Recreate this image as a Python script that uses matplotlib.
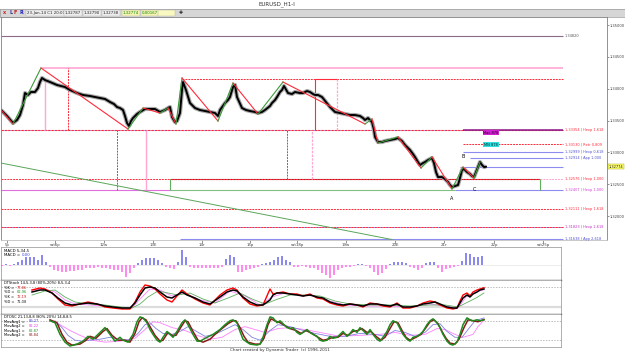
import matplotlib
matplotlib.use("Agg")
import matplotlib.pyplot as plt

# ── datos ───────────────────────────────────────────────────────────────────
price_x = [1, 3, 7, 13, 17, 20, 23, 25, 28, 31, 35, 38, 40, 42, 45, 50, 57, 65, 70, 77,
           83, 90, 95, 100, 105, 110, 114, 117, 120, 123, 125, 127, 129, 131, 133, 137, 140, 145, 150, 155,
           160, 165, 168, 170, 172, 175, 177, 180, 182, 183, 186, 190, 195, 200, 205, 210, 215, 218, 220, 225,
           228, 230, 233, 235, 237, 242, 246, 250, 255, 258, 262, 265, 270, 272, 275, 277, 280, 282, 284, 288,
           292, 295, 300, 303, 307, 310, 313, 315, 318, 322, 326, 330, 335, 340, 345, 350, 355, 360, 363, 365,
           368, 372, 374, 375, 378, 382, 385, 390, 395, 398, 402, 405, 408, 410, 413, 415, 418, 420, 423, 425,
           428, 430, 432, 434, 436, 438, 442, 445, 448, 450, 452, 455, 458, 460, 462, 464, 467, 470, 472, 474,
           476, 478, 480, 482, 484, 486]
price_close = [1.33665, 1.33634, 1.33571, 1.33461, 1.33508, 1.33586, 1.33743, 1.33932, 1.33901, 1.33948,
               1.33948, 1.34011, 1.34105, 1.34168, 1.34136, 1.34105, 1.34058, 1.34026, 1.33979, 1.33932,
               1.33901, 1.33885, 1.33869, 1.33853, 1.33838, 1.33791, 1.33759, 1.33712, 1.33696, 1.33665,
               1.33571, 1.33461, 1.33414, 1.33492, 1.33539, 1.33602, 1.33634, 1.33681, 1.33681, 1.33681,
               1.33634, 1.33665, 1.33696, 1.33712, 1.33555, 1.33476, 1.33492, 1.33618, 1.33979, 1.34105,
               1.33979, 1.33775, 1.33696, 1.33665, 1.33649, 1.33634, 1.33618, 1.33571, 1.33665, 1.33775,
               1.33822, 1.33869, 1.34026, 1.34058, 1.33869, 1.33696, 1.33665, 1.33649, 1.33634, 1.33618,
               1.33634, 1.33665, 1.33728, 1.33775, 1.33822, 1.33869, 1.33948, 1.33979, 1.34042, 1.33932,
               1.33916, 1.33948, 1.33932, 1.33932, 1.33963, 1.33948, 1.33916, 1.33901, 1.33901, 1.33869,
               1.33791, 1.33712, 1.33634, 1.33618, 1.33602, 1.33586, 1.33586, 1.33571, 1.33539, 1.33508,
               1.33539, 1.33476, 1.33351, 1.33241, 1.33162, 1.33162, 1.33178, 1.33194, 1.33209, 1.33225,
               1.33178, 1.33115, 1.33068, 1.33037, 1.32974, 1.32927, 1.32848, 1.32801, 1.32832, 1.32848,
               1.32879, 1.32895, 1.32911, 1.32832, 1.32691, 1.32612, 1.32612, 1.32581, 1.32534, 1.32487,
               1.32455, 1.32471, 1.32487, 1.32597, 1.32722, 1.32738, 1.32691, 1.32660, 1.32628, 1.32612,
               1.32691, 1.32769, 1.32848, 1.32801, 1.32769, 1.32774]

zz_x = [1, 13, 41, 128, 143, 160, 168, 176, 182, 218, 233, 258, 283, 365, 372, 378, 398, 421, 432, 452, 463, 474, 480]
zz_p = [1.33665, 1.33445, 1.34325, 1.33366, 1.33696, 1.33618, 1.33696, 1.33445, 1.34168, 1.33492, 1.34089,
        1.33602, 1.34105, 1.33445, 1.33524, 1.33146, 1.33241, 1.32754, 1.32927, 1.32424, 1.32769, 1.32597, 1.32848]

trend_x = [1, 392]
trend_p = [1.32832, 1.31630]

price_ticks = [1.32, 1.325, 1.33, 1.335, 1.34, 1.345, 1.35]
last_price = 1.32774

date_x = [7, 55, 104, 153, 202, 250, 297, 346, 395, 444, 494, 543]
date_lbl = ["5p", "sat6p", "12w", "13E", "14r", "15p", "sat18p", "19w", "20E", "21r", "22p", "sat25p"]

macd_x = list(range(2, 486, 4))
macd_hist = [-1, 1, -1, 1, 3, 5, 8, 8, 8, 5,
             10, 3, -2, -5, -6, -7, -7, -6, -6, -5,
             -5, -3, -3, -3, -2, -3, -3, -4, -5, -5,
             -7, -12, -8, -3, 2, 5, 7, 7, 7, 5,
             2, -2, -3, -4, 3, 15, 8, -2, -3, -3,
             -3, -3, -3, -3, -3, -2, 6, 10, 8, -7,
             -7, -5, -4, -3, -2, 1, 2, 3, 5, 8,
             9, 5, 3, -2, -2, -1, -2, -3, -3, -5,
             -8, -10, -13, -10, -5, -3, -2, -2, -1, 1,
             1, -1, -3, -7, -10, -8, -4, 1, 3, 3,
             3, 2, -2, -3, -5, -3, 2, 3, 3, -3,
             -7, -4, -3, -2, -1, 4, 12, 11, 8, 8,
             9]

stoch_x = [32, 40, 45, 52, 58, 65, 72, 80, 88, 97, 105, 113, 122, 130, 135, 140, 145, 150, 155, 160,
           167, 172, 177, 182, 187, 195, 203, 210, 213, 220, 227, 233, 237, 243, 250, 257, 263, 270, 273, 277,
           283, 290, 297, 303, 310, 317, 323, 330, 337, 343, 350, 357, 363, 370, 377, 383, 390, 397, 403, 410,
           417, 423, 430, 435, 440, 447, 453, 457, 460, 463, 467, 470, 473, 477, 480, 484]
stoch_k_black = [65, 71, 71, 62, 47, 32, 26, 29, 32, 29, 23, 20, 17, 17, 32, 56, 77, 80, 77, 65,
                 50, 47, 56, 65, 56, 47, 35, 29, 35, 50, 65, 71, 68, 50, 35, 26, 26, 41, 56, 62,
                 62, 59, 56, 53, 56, 50, 47, 35, 29, 26, 29, 26, 23, 29, 29, 26, 23, 29, 20, 20,
                 23, 29, 32, 35, 29, 20, 17, 17, 32, 47, 56, 50, 59, 65, 71, 74]
stoch_k_red = [71, 77, 74, 62, 44, 26, 23, 29, 35, 29, 20, 17, 14, 14, 35, 65, 86, 83, 74, 59,
               41, 35, 53, 71, 59, 44, 32, 26, 35, 56, 71, 77, 71, 47, 29, 23, 26, 74, 59, 62,
               65, 59, 59, 53, 59, 47, 44, 32, 26, 23, 29, 26, 20, 32, 29, 23, 20, 32, 17, 17,
               23, 32, 38, 35, 26, 17, 14, 17, 38, 56, 62, 53, 65, 71, 74, 78]
sg_x = [32, 45, 55, 65, 75, 90, 105, 120, 132, 140, 148, 158, 168, 178, 190, 203, 215, 228, 240, 252,
        265, 278, 290, 305, 320, 335, 350, 370, 390, 410, 430, 445, 458, 468, 476, 484]
stoch_d_green = [56, 68, 71, 50, 35, 29, 26, 20, 17, 29, 50, 68, 62, 56, 62, 44, 32, 47, 62, 44,
                 29, 44, 56, 56, 53, 38, 29, 26, 26, 23, 26, 26, 20, 35, 47, 62]
sp_x = [32, 45, 55, 65, 75, 90, 105, 120, 132, 140, 150, 160, 172, 185, 200, 215, 230, 245, 260, 272,
        285, 300, 315, 330, 345, 365, 390, 410, 430, 445, 458, 466, 476, 484]
stoch_d_pink = [71, 74, 65, 41, 29, 26, 23, 17, 17, 44, 74, 71, 53, 62, 41, 32, 68, 53, 26, 50,
                62, 56, 53, 38, 26, 23, 23, 20, 29, 23, 17, 50, 65, 72]

og_x = [50, 55, 60, 65, 70, 77, 83, 88, 93, 100, 105, 110, 115, 120, 123, 128, 133, 137, 140, 143,
        147, 150, 153, 157, 160, 163, 167, 170, 173, 177, 182, 185, 188, 193, 197, 200, 207, 213, 220, 225,
        230, 233, 237, 240, 243, 247, 250, 257, 260, 263, 267, 270, 273, 277, 280, 283, 287, 290, 293, 297,
        300, 303, 307, 310, 313, 317, 320, 323, 327, 330, 333, 337, 340, 343, 347, 350, 353, 357, 360, 363,
        367, 370, 373, 377, 380, 383, 387, 390, 393, 397, 400, 403, 407, 410, 413, 417, 420, 423, 427, 430,
        433, 437, 440, 443, 447, 450, 453, 457, 460, 463, 467, 470, 473, 477, 480, 484]
osc_green = [80, 74, 38, 14, 2, 8, 17, 32, 23, 44, 59, 38, 17, 29, 20, 14, 38, 77, 92, 89,
             74, 53, 38, 20, 14, 29, 47, 38, 29, 47, 74, 83, 68, 38, 17, 17, 29, 38, 53, 68,
             80, 83, 74, 47, 23, 14, 8, 5, 8, 29, 68, 92, 89, 74, 80, 71, 59, 56, 59, 44,
             38, 44, 53, 44, 38, 32, 20, 17, 20, 32, 26, 29, 38, 47, 32, 41, 53, 44, 59, 50,
             38, 53, 38, 23, 17, 29, 47, 68, 80, 74, 56, 38, 23, 17, 29, 32, 38, 47, 68, 80,
             86, 74, 59, 38, 17, 8, 5, 14, 38, 68, 89, 83, 80, 83, 80, 83]
or_x = [50, 57, 62, 67, 72, 80, 86, 90, 96, 103, 107, 112, 118, 125, 130, 135, 139, 142, 146, 150,
        155, 160, 163, 168, 172, 176, 180, 185, 188, 193, 198, 203, 210, 215, 222, 228, 233, 236, 240, 244,
        248, 255, 260, 264, 268, 271, 275, 280, 285, 290, 296, 301, 306, 312, 318, 323, 328, 333, 338, 343,
        348, 353, 358, 362, 367, 371, 376, 381, 385, 390, 394, 398, 402, 406, 410, 416, 421, 426, 430, 434,
        438, 442, 446, 450, 455, 459, 464, 468, 473, 478, 484]
osc_red = [83, 74, 38, 14, 5, 8, 20, 32, 26, 47, 56, 35, 20, 20, 14, 41, 77, 89, 83, 62,
           35, 17, 20, 44, 35, 35, 56, 80, 77, 47, 20, 14, 23, 38, 56, 71, 80, 80, 59, 32,
           14, 8, 8, 26, 68, 86, 80, 74, 65, 56, 50, 41, 50, 41, 29, 20, 23, 29, 29, 41,
           35, 47, 50, 56, 44, 47, 32, 20, 29, 56, 77, 74, 50, 29, 20, 29, 38, 59, 77, 83,
           71, 47, 26, 11, 8, 23, 59, 83, 80, 77, 84]
ob_x = [55, 62, 68, 75, 82, 90, 100, 110, 120, 130, 138, 145, 150, 156, 163, 172, 180, 188, 195, 205,
        215, 225, 235, 243, 252, 260, 270, 278, 290, 300, 315, 330, 345, 360, 375, 385, 395, 405, 415, 425,
        433, 440, 447, 455, 462, 468, 475, 484]
osc_blue = [80, 59, 35, 20, 17, 20, 23, 29, 23, 20, 41, 68, 74, 56, 41, 38, 47, 62, 50, 32,
            38, 53, 68, 53, 29, 20, 50, 68, 62, 53, 41, 32, 32, 41, 38, 32, 50, 44, 32, 44,
            68, 71, 47, 29, 29, 53, 80, 89]
op_x = [52, 60, 70, 80, 92, 105, 120, 135, 145, 153, 160, 172, 185, 197, 210, 222, 235, 245, 255, 265,
        278, 290, 305, 320, 340, 360, 380, 395, 410, 425, 437, 445, 455, 463, 473, 478, 484]
osc_pink = [80, 68, 50, 35, 20, 14, 17, 26, 53, 77, 74, 59, 50, 35, 23, 29, 53, 62, 53, 44,
            56, 59, 53, 44, 32, 35, 38, 44, 35, 38, 56, 53, 38, 29, 38, 62, 82]

# ── figura ───────────────────────────────────────────────────────────────────
W, H = 625, 354
RED = "#ff2a3a"; PINK = "#ffa6d2"; BLUE = "#8c8cf0"; GREEN = "#3a9a3a"; DKRED = "#9a2020"
fig = plt.figure(figsize=(W / 100, H / 100), dpi=100)
fig.patch.set_facecolor("white")


def px_axes(x0, y0, x1, y1):
    return fig.add_axes([x0 / W, 1 - y1 / H, (x1 - x0) / W, (y1 - y0) / H])


def ftext(x, y, s, **kw):
    fig.text(x / W, 1 - y / H, s, **kw)


# barra superior
ftext(277, 4, "EURUSD_H1-I", fontsize=4, ha="center", va="center", color="#303030")
bar = px_axes(0, 9, 625, 17)
bar.set_facecolor("#d6d6d6")
bar.set_xticks([]); bar.set_yticks([])
for s in bar.spines.values():
    s.set_color("#9a9a9a"); s.set_linewidth(0.5)
ftext(3, 13, "x", fontsize=3.5, color="#d02020", va="center", fontweight="bold")
ftext(9, 13, "L", fontsize=3.5, color="#303090", va="center", fontweight="bold")
ftext(14, 13, "F", fontsize=3.5, color="#c02020", va="center", fontweight="bold")
ftext(19, 13, "R", fontsize=3.5, color="#2020c0", va="center", fontweight="bold")
fields = [(27, "23-Jan-14 C1 20:00", "#eeeeee", "#202020"), (65, "1,32787", "#eeeeee", "#202020"),
          (84, "1,32790", "#eeeeee", "#202020"), (103, "1,32738", "#eeeeee", "#202020"),
          (123, "1,32774", "#f4f4b0", "#108010"), (142, "0,00167", "#f4f4b0", "#108010"),
          (159, "            ", "#f8f8c0", "#202020")]
for fx, ft, fb, fc in fields:
    ftext(fx, 13, ft, fontsize=2.8, color=fc, va="center",
          bbox=dict(boxstyle="square,pad=0.25", fc=fb, ec="#b0b0b0", lw=0.3))
ftext(181, 13, "✚", fontsize=3.5, color="#202020", va="center", ha="center")

# ── gráfico principal ────────────────────────────────────────────────────────
ax = px_axes(1, 17, 607, 240)
ax.set_xlim(1, 607)
ax.set_ylim(1.31623, 1.35126)
for k, s in ax.spines.items():
    s.set_color("#808080"); s.set_linewidth(0.6)
ax.spines["bottom"].set_color("#c0c0c0")

# niveles horizontales
ax.hlines(1.34820, 1, 563, color="#8c6c84", lw=0.8)
ax.hlines(1.34325, 42, 563, color=PINK, lw=1.2)
ax.hlines(1.34152, 182, 563, color=RED, lw=0.7, ls=(0, (2, 1)))
ax.hlines(1.34152, 315, 337, color=RED, lw=0.8)
ax.hlines(1.33354, 1, 563, color=BLUE, lw=0.5)
ax.hlines(1.33354, 1, 563, color=RED, lw=0.8, ls=(0, (2, 1)))
ax.hlines(1.33354, 463, 563, color="#8a1a8a", lw=1.1)
ax.hlines(1.33130, 463, 563, color=RED, lw=0.7, ls=(0, (2, 1)))
ax.hlines(1.32999, 463, 563, color=BLUE, lw=0.8)
ax.hlines(1.32914, 470, 563, color=BLUE, lw=0.8)
ax.hlines(last_price, 460, 563, color=BLUE, lw=0.8)
ax.hlines(1.32576, 170, 540, color=DKRED, lw=0.8)
ax.hlines(1.32576, 1, 540, color=RED, lw=0.7, ls=(0, (2, 1)))
ax.hlines(1.32576, 540, 563, color=PINK, lw=0.7, ls=(0, (2, 1)))
ax.hlines(1.32407, 1, 170, color="#e070e0", lw=0.8)
ax.hlines(1.32407, 170, 455, color="#80c080", lw=0.8)
ax.hlines(1.32407, 455, 563, color=BLUE, lw=0.8)
ax.vlines(540, 1.32407, 1.32576, color="#60b060", lw=0.8)
ax.vlines(170, 1.32407, 1.32576, color="#60b060", lw=0.8)
ax.hlines(1.32111, 1, 563, color=RED, lw=0.7, ls=(0, (2, 1)))
ax.hlines(1.31823, 1, 563, color=BLUE, lw=0.6)
ax.hlines(1.31823, 1, 563, color=RED, lw=0.7, ls=(0, (2, 1)))
ax.hlines(1.31638, 180, 563, color=BLUE, lw=0.8)

# zonas de tiempo (rectángulos)
ax.vlines(45, 1.33354, 1.34168, color=PINK, lw=1.0)
ax.vlines(68, 1.33354, 1.34325, color=RED, lw=0.7, ls=(0, (2, 1)))
ax.vlines(117, 1.32407, 1.33354, color=RED, lw=0.7, ls=(0, (2, 1)))
ax.vlines(146, 1.32407, 1.33354, color=PINK, lw=1.0)
ax.vlines(287, 1.32576, 1.33354, color=RED, lw=0.7, ls=(0, (2, 1)))
ax.vlines(312, 1.32576, 1.33354, color=PINK, lw=0.9, ls=(0, (2, 1)))
ax.vlines(315, 1.33354, 1.34152, color=RED, lw=0.8)
ax.vlines(337, 1.33354, 1.34152, color=PINK, lw=0.9, ls=(0, (2, 1)))

# línea de tendencia
ax.plot(trend_x, trend_p, color="#5aa55a", lw=0.7)

# precio (velas densas)
ax.plot(price_x, price_close, color="#a8a8a8", lw=3.0, solid_capstyle="butt")
ax.plot(price_x, price_close, color="black", lw=1.4)

# zigzag
for i in range(len(zz_x) - 1):
    c = RED if zz_p[i + 1] < zz_p[i] else GREEN
    ax.plot(zz_x[i:i + 2], zz_p[i:i + 2], color=c, lw=0.8)

# etiquetas A B C
ax.text(463, 1.32927, "B", fontsize=3.5, ha="center", va="center")
ax.text(452, 1.32279, "A", fontsize=3.5, ha="center", va="center")
ax.text(474, 1.32424, "C", fontsize=3.5, ha="center", va="center")

ax.text(491, 1.33310, "Mac 878", fontsize=2.6, ha="center", va="center", color="#300030",
        bbox=dict(boxstyle="square,pad=0.2", fc="#d020d0", ec="none"))
ax.text(491, 1.33120, "MN 878", fontsize=2.6, ha="center", va="center", color="#003030",
        bbox=dict(boxstyle="square,pad=0.2", fc="#30e0e0", ec="none"))

# textos de niveles a la derecha
lvl_p = [1.34820, 1.33354, 1.33130, 1.32999, 1.32914, 1.32576, 1.32407, 1.32111, 1.31823, 1.31638]
lvl_txt = ["1,34820", "1,33354 | Hexp 1,618", "1,33130 | Retr 0,809", "1,32999 | Hexp 0,618",
           "1,32914 | App 1,000", "1,32576 | Hexp 1,000", "1,32407 | Hexp 1,000",
           "1,32111 | Hexp 1,618", "1,31823 | Hexp 2,618", "1,31638 | App 2,618"]
lvl_col = ["#505050", RED, RED, "#5050d0", "#5050d0", RED, "#d040d0", RED, "#c030c0", "#5050d0"]
for p, t, c in zip(lvl_p, lvl_txt, lvl_col):
    ax.text(565, p, t, fontsize=2.5, color=c, va="center")

# eje derecho
ax.yaxis.tick_right()
ax.set_yticks(price_ticks, [f"{t:.5f}".replace(".", ",") for t in price_ticks])
ax.tick_params(axis="y", labelsize=2.6, length=1.5, width=0.4, pad=0.5, colors="#404040")
ax.text(608.5, last_price, "1,32774", fontsize=2.6, va="center", color="#202020",
        bbox=dict(boxstyle="square,pad=0.15", fc="#ffff70", ec="#a0a000", lw=0.3))
ax.set_xticks(date_x, date_lbl)
ax.tick_params(axis="x", labelsize=2.8, length=2, width=0.4, pad=0.5, colors="#404040")

# ── MACD ─────────────────────────────────────────────────────────────────────
m = px_axes(1, 247, 561, 280)
m.set_xlim(1, 561); m.set_ylim(-15, 18)
m.bar(macd_x, macd_hist, width=1.3,
      color=["#8a8af0" if v > 0 else "#ff8af0" for v in macd_hist])
m.axhline(0, color="#e0e0e0", lw=0.4, zorder=0)
m.set_xticks([]); m.set_yticks([])
for k, s in m.spines.items():
    s.set_color("#909090"); s.set_linewidth(0.5)
m.spines["bottom"].set_color("black"); m.spines["bottom"].set_linewidth(0.9)
m.text(4, 16, "MACD 5,34,5", fontsize=2.8, va="top")
m.text(4, 11.5, "MACD = ", fontsize=2.8, va="top")
m.text(22, 11.5, "0,00", fontsize=2.8, va="top", color="#4040e0")

# ── DTStoch ──────────────────────────────────────────────────────────────────
st = px_axes(1, 280, 561, 314)
st.set_xlim(1, 561); st.set_ylim(-1, 101)
st.axhline(80, color="#a0a0a0", lw=0.5, ls=(0, (2, 2)))
st.axhline(20, color="#dcdcdc", lw=1.6)
st.plot(sp_x, stoch_d_pink, color="#ff80ff", lw=0.6)
st.plot(sg_x, stoch_d_green, color="#60b060", lw=0.6)
st.plot(stoch_x, stoch_k_red, color="#ff0000", lw=1.0)
st.plot(stoch_x, stoch_k_black, color="black", lw=1.1)
st.set_xticks([]); st.set_yticks([])
for k, s in st.spines.items():
    s.set_color("#909090"); s.set_linewidth(0.5)
st.spines["bottom"].set_color("black"); st.spines["bottom"].set_linewidth(0.9)
st.text(4, 98, "DTStoch 14,5,3,8 (80%-20%) 8,5,3,4", fontsize=2.6, va="top")
for yy, lab, val, c in [(84, "%K = ", "77,86", "#d02020"), (70, "%D = ", "62,96", "#209020"),
                        (56, "%K = ", "72,19", "#d02020"), (42, "%D = ", "71,08", "#202020")]:
    st.text(4, yy, lab, fontsize=2.6, va="top")
    st.text(17, yy, val, fontsize=2.6, va="top", color=c)

# ── DTOsc ────────────────────────────────────────────────────────────────────
osc = px_axes(1, 314, 561, 347)
osc.set_xlim(1, 561); osc.set_ylim(-1, 101)
osc.axhline(80, color="#a0a0a0", lw=0.5, ls=(0, (2, 2)))
osc.axhline(20, color="#a0a0a0", lw=0.5, ls=(0, (2, 2)))
osc.plot(op_x, osc_pink, color="#ff80ff", lw=0.6)
osc.plot(ob_x, osc_blue, color="#8080e0", lw=0.6)
osc.plot(or_x, osc_red, color="#8b1a1a", lw=1.1)
osc.plot(og_x, osc_green, color="#1e8a1e", lw=1.1)
osc.set_xticks([]); osc.set_yticks([])
for k, s in osc.spines.items():
    s.set_color("#909090"); s.set_linewidth(0.5)
osc.text(4, 98, "DTOSC 21,13,8,8 (80%-20%) 14,8,8,5", fontsize=2.6, va="top")
for yy, lab, val, c in [(84, "MovAvg1 = ", "89,27", "#4040e0"), (70, "MovAvg2 = ", "82,22", "#e040e0"),
                        (56, "MovAvg1 = ", "62,87", "#209020"), (42, "MovAvg2 = ", "83,84", "#902020")]:
    osc.text(4, yy, lab, fontsize=2.6, va="top")
    osc.text(29, yy, val, fontsize=2.6, va="top", color=c)

ftext(280, 350.5, "Chart created by Dynamic Trader  (c) 1996-2011", fontsize=3, ha="center", va="center",
      color="#303030")

fig.savefig("out.png", dpi=100)
